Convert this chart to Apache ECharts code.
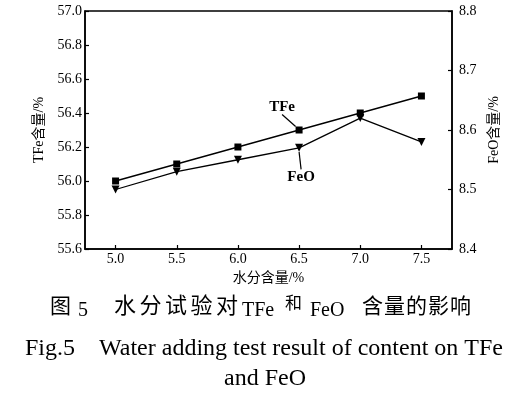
<!DOCTYPE html>
<html>
<head>
<meta charset="utf-8">
<script src="https://cdn.jsdelivr.net/npm/echarts@6/dist/echarts.min.js"></script>
<style>
html,body{margin:0;padding:0;background:#fff;}
#chart{width:517px;height:398px;}
</style>
</head>
<body>
<div id="chart"></div>
<script>
var categories = ['5.0', '5.5', '6.0', '6.5', '7.0', '7.5'];
var tfeValues = [56.0, 56.1, 56.2, 56.3, 56.4, 56.5];
var feoValues = [8.50, 8.53, 8.55, 8.57, 8.62, 8.58];
var seriesNames = ['TFe', 'FeO'];
var tfeLabelIndex = 3;
var feoLabelIndex = 3;

var serif = '"Liberation Serif", "Times New Roman", serif';
var cjk = '"Noto Sans CJK SC", sans-serif';
var cjkSerif = '"Liberation Serif", "Noto Sans CJK SC", serif';

function buildData(values, labelIdx, name) {
  return values.map(function (v, i) {
    if (i === labelIdx) {
      return { value: v, label: { show: true, formatter: name } };
    }
    return v;
  });
}

// caption pieces
function txt(x, y, s, font, size) {
  return { type: 'text', x: x, y: y, silent: true,
    style: { text: s, fontFamily: font, fontSize: size, fill: '#000', textAlign: 'left', textVerticalAlign: 'middle', verticalAlign: 'middle' } };
}
function spaced(x0, y, s, pitch, size) {
  return s.split('').map(function (ch, i) { return txt(x0 + i * pitch, y, ch, cjk, size); });
}
var graphics = [];
graphics.push(txt(50, 305, '图', cjk, 21));
graphics.push(txt(78, 311, '5', serif, 20));
graphics = graphics.concat(spaced(114, 305, '水分试验对', 25.5, 22));
graphics.push(txt(242, 311, 'TFe', serif, 20));
graphics.push(txt(285, 302.5, '和', cjk, 17));
graphics.push(txt(310, 311, 'FeO', serif, 20));
graphics = graphics.concat(spaced(362, 305, '含量的影响', 22, 21));
graphics.push({ type: 'text', x: 264, y: 349, silent: true,
  style: { text: 'Fig.5    Water adding test result of content on TFe', fontFamily: serif, fontSize: 24, fill: '#000', textAlign: 'center', textVerticalAlign: 'middle', verticalAlign: 'middle' } });
graphics.push({ type: 'text', x: 265, y: 379, silent: true,
  style: { text: 'and FeO', fontFamily: serif, fontSize: 24, fill: '#000', textAlign: 'center', textVerticalAlign: 'middle', verticalAlign: 'middle' } });

var chart = echarts.init(document.getElementById('chart'), null, { renderer: 'canvas' });
var axisLabelStyle = { color: '#000', fontFamily: serif, fontSize: 14 };
var option = {
  animation: false,
  backgroundColor: '#fff',
  grid: { left: 85, top: 11, right: 65, bottom: 149, show: true, borderColor: '#000', borderWidth: 1.5, backgroundColor: 'transparent' },
  xAxis: {
    type: 'category',
    data: categories,
    boundaryGap: true,
    name: '水分含量/%',
    nameLocation: 'middle',
    nameGap: 22,
    nameTextStyle: { color: '#000', fontFamily: cjkSerif, fontSize: 14 },
    axisLine: { lineStyle: { color: '#000', width: 1.5 } },
    axisTick: { show: true, inside: true, alignWithLabel: true, length: 4, lineStyle: { color: '#000', width: 1.2 } },
    axisLabel: Object.assign({ margin: 3 }, axisLabelStyle),
    splitLine: { show: false }
  },
  yAxis: [
    {
      type: 'value',
      min: 55.6, max: 57.0, interval: 0.2,
      position: 'left',
      name: 'TFe含量/%',
      nameLocation: 'middle',
      nameRotate: 90,
      nameGap: 38,
      nameTextStyle: { color: '#000', fontFamily: cjkSerif, fontSize: 14 },
      axisLine: { show: true, lineStyle: { color: '#000', width: 1.5 } },
      axisTick: { show: true, inside: true, length: 4, lineStyle: { color: '#000', width: 1.2 } },
      axisLabel: Object.assign({ margin: 3, formatter: function (v) { return v.toFixed(1); } }, axisLabelStyle),
      splitLine: { show: false }
    },
    {
      type: 'value',
      min: 8.4, max: 8.8, interval: 0.1,
      position: 'right',
      name: 'FeO含量/%',
      nameLocation: 'middle',
      nameRotate: 90,
      nameGap: 33,
      nameTextStyle: { color: '#000', fontFamily: cjkSerif, fontSize: 14 },
      axisLine: { show: true, lineStyle: { color: '#000', width: 1.5 } },
      axisTick: { show: true, inside: true, length: 4, lineStyle: { color: '#000', width: 1.2 } },
      axisLabel: Object.assign({ margin: 7, formatter: function (v) { return v.toFixed(1); } }, axisLabelStyle),
      splitLine: { show: false }
    }
  ],
  series: [
    {
      name: seriesNames[0],
      type: 'line',
      yAxisIndex: 0,
      data: buildData(tfeValues, tfeLabelIndex, seriesNames[0]),
      symbol: 'rect',
      symbolSize: 7,
      showAllSymbol: true,
      lineStyle: { color: '#000', width: 1.3 },
      itemStyle: { color: '#000' },
      label: { show: false, position: 'inside', color: '#000', fontFamily: serif, fontWeight: 'bold', fontSize: 15 },
      labelLayout: { dx: -17, dy: -23 },
      labelLine: { show: true, lineStyle: { color: '#000', width: 1.2 } }
    },
    {
      name: seriesNames[1],
      type: 'line',
      yAxisIndex: 1,
      data: buildData(feoValues, feoLabelIndex, seriesNames[1]),
      symbol: 'triangle',
      symbolRotate: 180,
      symbolSize: 8,
      showAllSymbol: true,
      lineStyle: { color: '#000', width: 1.3 },
      itemStyle: { color: '#000' },
      label: { show: false, position: 'inside', color: '#000', fontFamily: serif, fontWeight: 'bold', fontSize: 15 },
      labelLayout: { dx: 2, dy: 29 },
      labelLine: { show: true, lineStyle: { color: '#000', width: 1.2 } }
    }
  ],
  graphic: graphics
};
chart.setOption(option);
</script>
</body>
</html>
